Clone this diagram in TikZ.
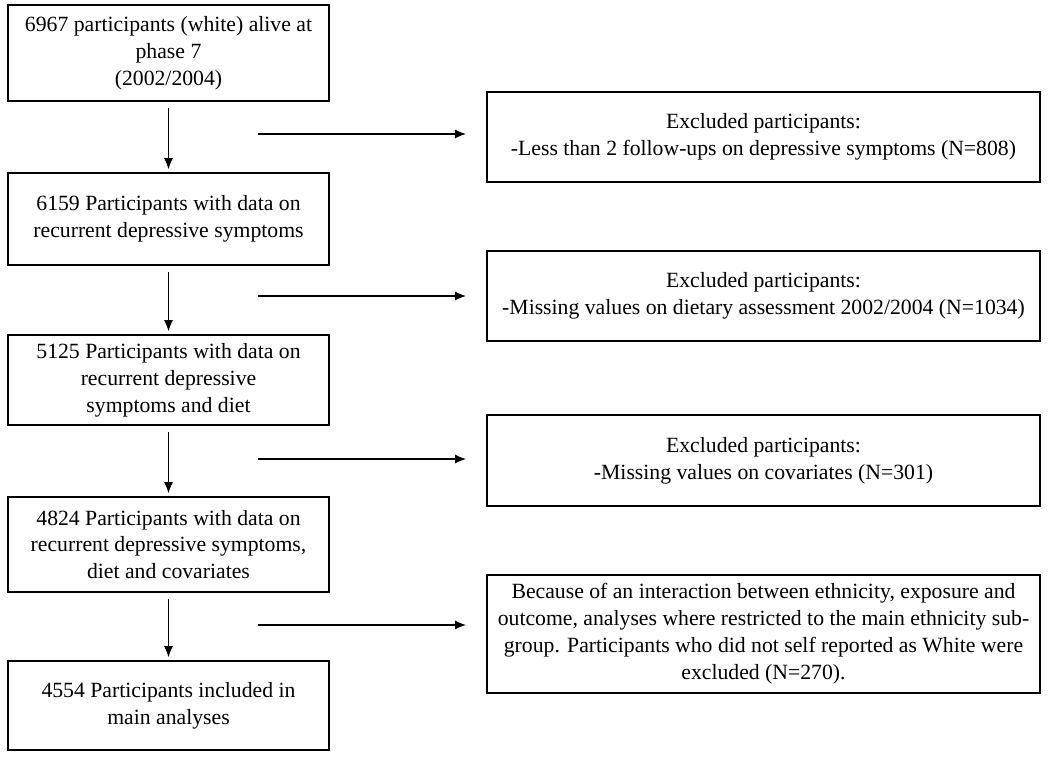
\documentclass[tikz,border=0pt]{standalone}
\usepackage{fontspec}
\setmainfont{Liberation Serif}
\usetikzlibrary{arrows.meta}

\begin{document}
\begin{tikzpicture}[x=1bp,y=1bp]
        \tikzstyle{every node} = [rectangle, align=center, inner sep=0pt, font=\fontsize{21.8}{27}\selectfont]
        \tikzstyle{stage} = [draw, line width=1.6bp, minimum width=321bp]
        \tikzstyle{excl} = [draw, line width=1.6bp, minimum width=553bp]
        \tikzstyle{flow} = [-{Latex[length=11bp,width=9bp]}, line width=1.1bp]
        \useasboundingbox (0,0) rectangle (1050,760);

        \node[stage, minimum height=96bp] (p1) at (168.5,707) {6967 participants (white) alive at\\ phase 7\\ (2002/2004)};
        \node[stage, minimum height=92bp] (p2) at (168.5,541) {6159 Participants with data on\\ recurrent depressive symptoms};
        \node[stage, minimum height=90bp] (p3) at (168.5,380) {5125 Participants with data on\\ recurrent depressive\\ symptoms and diet};
        \node[stage, minimum height=95bp] (p4) at (168.5,215.5) {4824 Participants with data on\\ recurrent depressive symptoms,\\ diet and covariates};
        \node[stage, minimum height=89bp] (p5) at (168.5,54.5) {4554 Participants included in\\ main analyses};

        \node[excl, minimum height=90bp] (x1) at (763.5,623) {Excluded participants:\\ -Less than 2 follow-ups on depressive symptoms (N=808)};
        \node[excl, minimum height=90bp] (x2) at (763.5,464) {Excluded participants:\\ -Missing values on dietary assessment 2002/2004 (N=1034)};
        \node[excl, minimum height=91bp] (x3) at (763.5,299.5) {Excluded participants:\\ -Missing values on covariates (N=301)};
        \node[excl, minimum height=118bp] (x4) at (763.5,126) {Because of an interaction between ethnicity, exposure and\\ outcome, analyses where restricted to the main ethnicity sub-\\ group. Participants who did not self reported as White were\\ excluded (N=270).};

        \foreach \from/\to in {p1/p2, p2/p3, p3/p4, p4/p5}
            \draw[flow, shorten <=6bp, shorten >=3bp] (\from) -- (\to);

        \foreach \i/\y in {1/626, 2/464, 3/301, 4/135} {
            \coordinate (s\i) at (258,\y);
            \coordinate (e\i) at (466,\y);
            \draw[flow] (s\i) -- (e\i);
        }
\end{tikzpicture}
\end{document}
